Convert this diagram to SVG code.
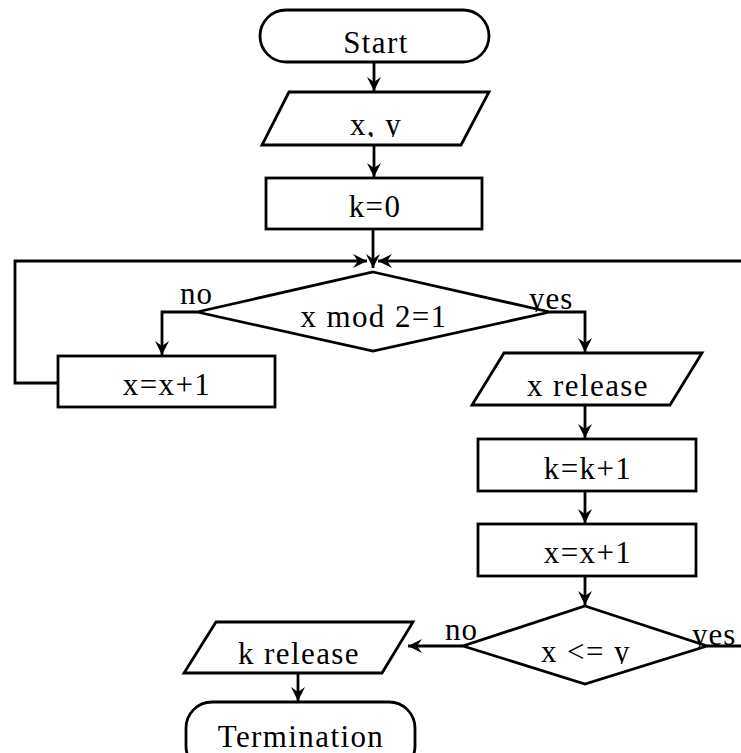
<svg xmlns="http://www.w3.org/2000/svg" width="741" height="753" viewBox="0 0 741 753">
<style>
.s{fill:#fff;stroke:#000;stroke-width:2.8}
.c{fill:none;stroke:#000;stroke-width:2.8}
.t{font-family:"Liberation Serif",serif;font-size:31px;fill:#000;text-anchor:middle;letter-spacing:1.4px}
.l{font-family:"Liberation Serif",serif;font-size:31px;fill:#000;letter-spacing:1px}
</style>
<defs>
<marker id="ah" markerUnits="userSpaceOnUse" viewBox="-15 -8 16 16" markerWidth="16" markerHeight="16" refX="0" refY="0" orient="auto">
<path d="M0,0 L-14,-7 L-9,0 L-14,7 Z" fill="#000"/>
</marker>
<clipPath id="c1"><rect x="0" y="0" width="741" height="137"/></clipPath>
<clipPath id="c2"><rect x="0" y="0" width="741" height="312"/></clipPath>
<clipPath id="c3"><rect x="0" y="0" width="741" height="664"/></clipPath>
<clipPath id="c4"><rect x="0" y="0" width="741" height="648"/></clipPath>
</defs>
<rect width="741" height="753" fill="#fff"/>
<g id="connectors">
<path class="c" d="M374,62 V91" marker-end="url(#ah)"/>
<path class="c" d="M374,145 V177" marker-end="url(#ah)"/>
<path class="c" d="M373,229 V268" marker-end="url(#ah)"/>
<path class="c" d="M58,383 H15 V261 H367" marker-end="url(#ah)"/>
<path class="c" d="M741,261 H378" marker-end="url(#ah)"/>
<path class="c" d="M197,312 H162 V355" marker-end="url(#ah)"/>
<path class="c" d="M550,312 H585 V352" marker-end="url(#ah)"/>
<path class="c" d="M585,405 V438" marker-end="url(#ah)"/>
<path class="c" d="M585,491 V523" marker-end="url(#ah)"/>
<path class="c" d="M585,576 V605" marker-end="url(#ah)"/>
<path class="c" d="M463,646 H408" marker-end="url(#ah)"/>
<path class="c" d="M707,646 H741"/>
<path class="c" d="M298,673 V701" marker-end="url(#ah)"/>
</g>
<g id="start">
<rect class="s" x="260" y="10" width="229" height="52" rx="26"/>
<text class="t" x="376" y="53">Start</text>
</g>
<g id="input">
<polygon class="s" points="289,92 489,92 461,145 262,145"/>
<text class="t" x="376" y="135" clip-path="url(#c1)">x, y</text>
</g>
<g id="init">
<rect class="s" x="266" y="178" width="216" height="51"/>
<text class="t" x="375" y="217">k=0</text>
</g>
<g id="cond1">
<polygon class="s" points="373,272 550,312 373,351 197,312"/>
<text class="t" x="374" y="327">x mod 2=1</text>
<text class="l" x="180" y="304">no</text>
<text class="l" x="529" y="309" clip-path="url(#c2)">yes</text>
</g>
<g id="incLeft">
<rect class="s" x="58" y="356" width="217" height="51"/>
<text class="t" x="167" y="395">x=x+1</text>
</g>
<g id="outX">
<polygon class="s" points="504,353 702,353 670,405 472,405"/>
<text class="t" x="588" y="396">x release</text>
</g>
<g id="incK">
<rect class="s" x="478" y="439" width="218" height="52"/>
<text class="t" x="588" y="479">k=k+1</text>
</g>
<g id="incRight">
<rect class="s" x="478" y="524" width="218" height="52"/>
<text class="t" x="588" y="563">x=x+1</text>
</g>
<g id="cond2">
<polygon class="s" points="585,606 707,646 585,684 463,646"/>
<text class="t" x="586" y="662" clip-path="url(#c3)">x &lt;= y</text>
<text class="l" x="445" y="640">no</text>
<text class="l" x="692" y="645" clip-path="url(#c4)">yes</text>
</g>
<g id="outK">
<polygon class="s" points="216,622 413,622 382,673 184,673"/>
<text class="t" x="299" y="664" clip-path="url(#c3)">k release</text>
</g>
<g id="end">
<rect class="s" x="186" y="702" width="229" height="70" rx="26"/>
<text class="t" x="301" y="747">Termination</text>
</g>
</svg>
